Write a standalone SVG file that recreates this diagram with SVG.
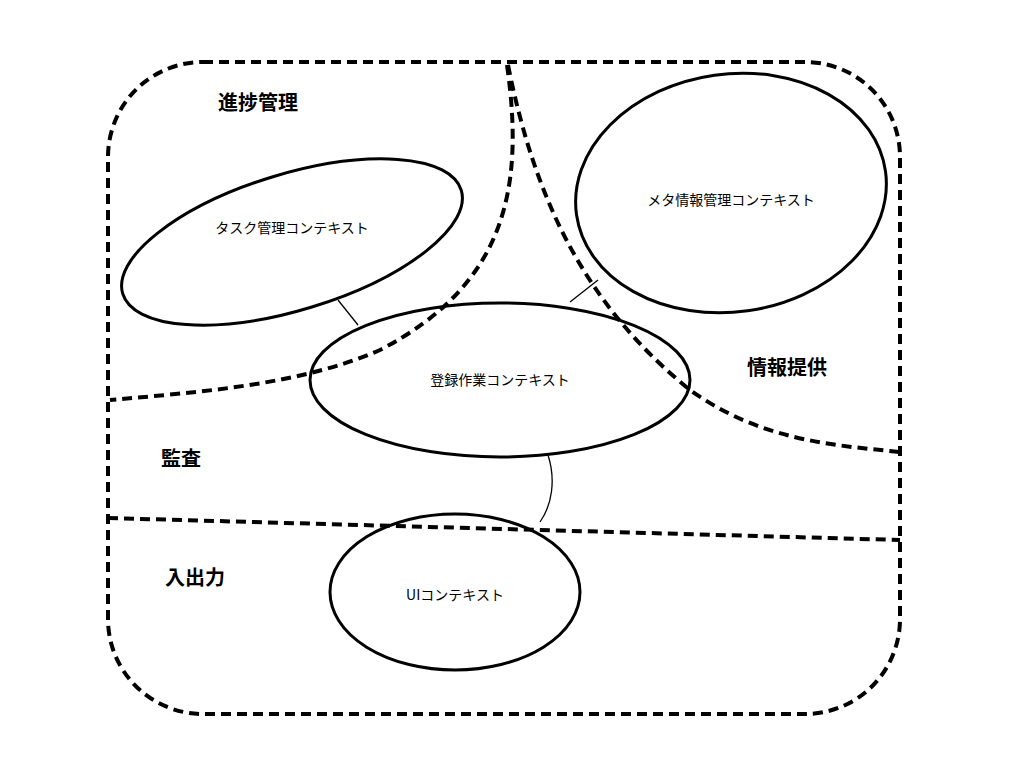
<svg xmlns="http://www.w3.org/2000/svg" width="1024" height="768" viewBox="0 0 1024 768">
<style>
.d{fill:none;stroke:#000;stroke-width:4;stroke-dasharray:10 6}
.e{fill:none;stroke:#000;stroke-width:3}
.c{fill:none;stroke:#000;stroke-width:1.3}
.a{font-family:"Noto Sans CJK JP","Liberation Sans",sans-serif;font-size:20px;font-weight:bold;text-anchor:middle}
.n{font-family:"Noto Sans CJK JP","Liberation Sans",sans-serif;font-size:14px;text-anchor:middle}
</style>
<rect width="1024" height="768" fill="#fff"/>
<g id="areas">
<rect class="d" x="108" y="62" width="792" height="652" rx="95"/>
<path class="d" d="M507,65 C525,190 505,285 380,350 C300,385 200,392 110,400"/>
<path class="d" d="M508,65 C535,200 585,305 690,390 C760,440 830,445 900,452"/>
<path class="d" d="M108,518 L900,540"/>
<text class="a" x="258" y="110">進捗管理</text>
<text class="a" x="787" y="375">情報提供</text>
<text class="a" x="181" y="466">監査</text>
<text class="a" x="195" y="585">入出力</text>
</g>
<g id="connectors">
<path class="c" d="M338,300 L358,325"/>
<path class="c" d="M570,302 L598,280"/>
<path class="c" d="M548,455 C556,480 552,505 540,522"/>
</g>
<g id="task"><ellipse class="e" cx="292" cy="242" rx="177" ry="68" transform="rotate(-17 292 242)"/><text class="n" x="292" y="233">タスク管理コンテキスト</text></g>
<g id="meta"><ellipse class="e" cx="731" cy="193" rx="156" ry="119" transform="rotate(-8 731 193)"/><text class="n" x="731" y="205">メタ情報管理コンテキスト</text></g>
<g id="reg"><ellipse class="e" cx="500" cy="380" rx="190" ry="77"/><text class="n" x="500" y="385">登録作業コンテキスト</text></g>
<g id="ui"><ellipse class="e" cx="455" cy="592" rx="125" ry="78"/><text class="n" x="455" y="600">UIコンテキスト</text></g>
</svg>
